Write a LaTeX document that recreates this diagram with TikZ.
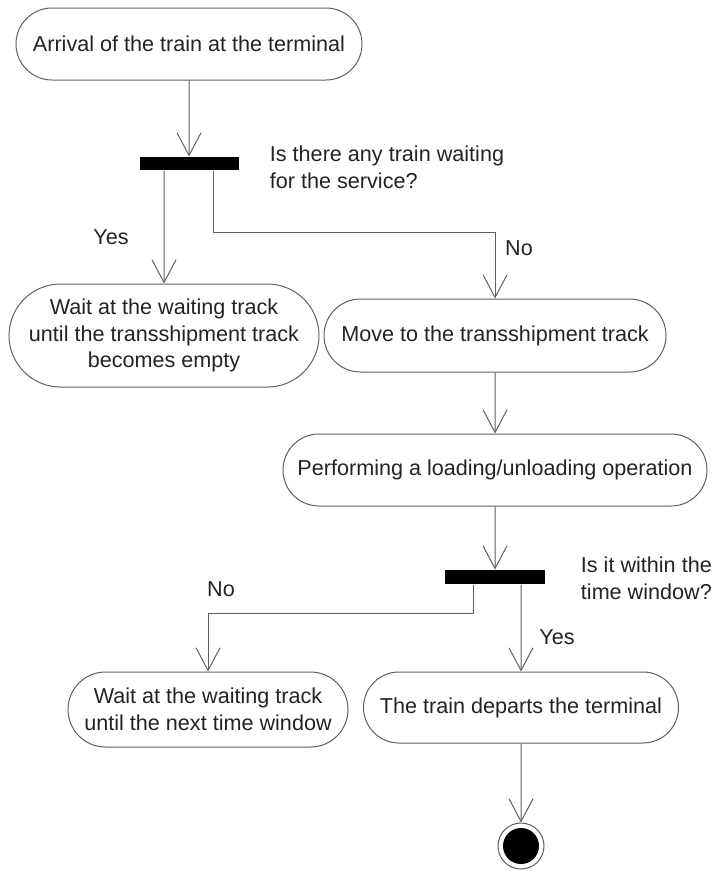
\documentclass[tikz,border=0pt]{standalone}
\usepackage{fontspec}
\setmainfont{Liberation Sans}
\usetikzlibrary{arrows.meta,shapes.misc}
\definecolor{linegray}{RGB}{95,95,95}
\definecolor{txtgray}{RGB}{35,35,35}

\begin{document}
\begin{tikzpicture}[x=0.75pt,y=-0.75pt,line width=0.75pt,
    every node/.style={font=\fontsize{16.2}{20}\selectfont,text=txtgray},
    action/.style={draw=linegray,rounded rectangle,inner sep=0pt,align=center},
    forkbar/.style={fill=black,draw=none,inner sep=0pt},
    flow/.style={draw=linegray,-{Straight Barb[length=17pt,width=18pt]}}]
      \useasboundingbox (0,0) rectangle (711,871);

      % arrival and first decision
      \node[action,minimum width=259.5pt,minimum height=54pt] (arrival) at (189,44) {Arrival of the train at the terminal};
      \node[forkbar,minimum width=74.25pt,minimum height=9.75pt] (fork1) at (189,163.5) {};
      \node[anchor=west,align=left] (ask1) at (265,167) {Is there any train waiting\\for the service?};
      \draw[flow] (arrival) -- (fork1);

      % yes / no
      \node[action,minimum width=232.5pt,minimum height=77.25pt] (wait1) at (164,335.5) {Wait at the waiting track\\until the transshipment track\\becomes empty};
      \node[action,minimum width=256.5pt,minimum height=54.75pt] (move) at (495,335.5) {Move to the transshipment track};
      \coordinate (bend1) at (213,232);
      \draw[flow] (fork1.south -| wait1) -- (wait1);
      \draw[flow] (fork1.south -| bend1) -- (bend1) -| (move);
      \node (yes1) at (111,237) {Yes};
      \node (no1) at (519,248) {No};

      % loading / unloading
      \node[action,minimum width=318pt,minimum height=54pt] (perform) at (495,470) {Performing a loading/unloading operation};
      \draw[flow] (move) -- (perform);

      % second decision
      \node[forkbar,minimum width=75pt,minimum height=10.5pt] (fork2) at (495,577) {};
      \node[anchor=west,align=left] (ask2) at (576,578.5) {Is it within the\\time window?};
      \draw[flow] (perform) -- (fork2);

      \node[action,minimum width=210pt,minimum height=56.25pt] (wait2) at (208,709.5) {Wait at the waiting track\\until the next time window};
      \node[action,minimum width=236.25pt,minimum height=53.25pt] (depart) at (521,707.5) {The train departs the terminal};
      \coordinate (bend2) at (473,613);
      \draw[flow] (fork2.south -| bend2) -- (bend2) -| (wait2);
      \draw[flow] (fork2.south -| depart) -- (depart);
      \node (no2) at (221,589) {No};
      \node (yes2) at (557,637) {Yes};

      % end
      \node[circle,draw=linegray,minimum size=34.5pt,inner sep=0pt] (final) at (521,846) {};
      \node[circle,fill=black,minimum size=27pt,inner sep=0pt] (finaldot) at (final) {};
      \draw[flow] (depart) -- (final);
    \end{tikzpicture}
\end{document}
